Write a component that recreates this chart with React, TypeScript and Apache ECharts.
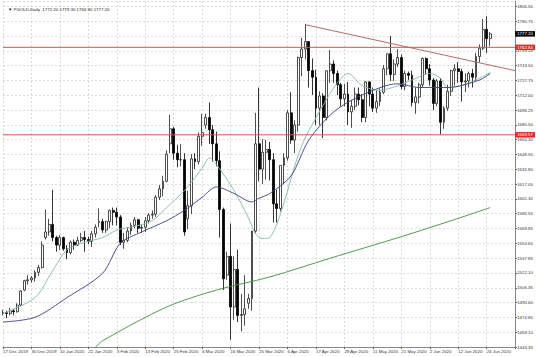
import React, { useEffect, useRef } from 'react';
import * as echarts from 'echarts';

// Daily candles (index 0 = 17 Dec 2019)
const opens = [
  1480,1480,1479,1482,1481,1488,1504,1514,1515,1517,1523,1528,1560,1566,1574,1560,1552,1560,1548,1544,
  1555,1552,1557,1560,1558,1556,1564,1576,1577,1568,1577,1589,1587,1582,1555,1557,1567,1573,1579,1570,
  1571,1578,1584,1585,1603,1612,1620,1660,1676,1650,1643,1643,1580,1594,1644,1641,1668,1680,1688,1675,
  1660,1642,1590,1520,1540,1486,1526,1477,1478,1490,1495,1567,1660,1633,1651,1654,1643,1596,1591,1637,
  1645,1693,1664,1680,1752,1761,1769,1738,1731,1698,1711,1688,1738,1745,1735,1723,1708,1713,1694,1700,
  1713,1707,1688,1726,1713,1698,1705,1715,1740,1756,1734,1745,1752,1721,1735,1733,1704,1710,1723,1751,
  1740,1728,1703,1727,1683,1698,1716,1738,1740,1737,1726,1727,1735,1731,1753,1762,1782,1772.2,
];
const highs = [
  1483,1482,1485,1484,1490,1504,1515,1520,1519,1525,1531,1556,1590,1580,1611,1562,1563,1561,1552,1557,
  1558,1561,1565,1567,1561,1567,1574,1591,1580,1578,1590,1592,1592,1584,1565,1571,1576,1582,1580,1574,
  1582,1586,1589,1605,1616,1626,1653,1691,1678,1659,1660,1650,1610,1649,1650,1672,1692,1692,1704,1680,
  1673,1652,1592,1545,1575,1540,1547,1500,1520,1500,1567,1693,1720,1665,1664,1662,1650,1611,1637,1650,
  1696,1715,1685,1753,1773,1788,1769,1751,1739,1716,1714,1738,1760,1749,1738,1725,1724,1726,1707,1720,
  1720,1713,1727,1727,1720,1717,1719,1744,1756,1775,1750,1761,1755,1738,1737,1738,1720,1725,1752,1752,
  1745,1730,1729,1730,1700,1723,1739,1745,1747,1740,1735,1737,1740,1757,1766,1793,1796,1779.3,
];
const lows = [
  1477,1474,1477,1477,1480,1487,1503,1510,1512,1513,1519,1527,1558,1562,1556,1545,1547,1546,1537,1542,
  1547,1551,1555,1545,1553,1550,1560,1571,1565,1565,1570,1573,1573,1552,1548,1555,1563,1570,1565,1565,
  1566,1575,1580,1582,1600,1604,1619,1650,1643,1635,1636,1562,1569,1585,1633,1638,1658,1676,1660,1641,
  1636,1560,1504,1515,1451,1472,1470,1460,1466,1484,1482,1565,1620,1617,1622,1621,1576,1576,1588,1617,
  1642,1660,1650,1673,1732,1750,1720,1712,1680,1680,1666,1685,1725,1725,1712,1700,1700,1680,1677,1696,
  1701,1683,1683,1700,1694,1693,1700,1713,1733,1727,1727,1742,1718,1717,1728,1700,1692,1703,1720,1734,
  1722,1696,1700,1670,1676,1695,1711,1722,1725,1705,1715,1720,1720,1727,1747,1760,1757,1763.9,
];
const closes = [
  1480,1479,1482,1481,1488,1503,1514,1515,1517,1523,1528,1552,1566,1574,1560,1552,1560,1548,1544,1555,
  1552,1557,1560,1558,1556,1564,1571,1577,1568,1577,1589,1587,1582,1555,1557,1567,1573,1579,1570,1571,
  1578,1584,1585,1603,1612,1620,1649,1676,1650,1643,1643,1566,1594,1644,1641,1668,1672,1688,1675,1660,
  1642,1590,1516,1540,1486,1526,1477,1478,1484,1495,1567,1660,1633,1651,1654,1643,1596,1591,1637,1645,
  1693,1664,1680,1752,1761,1769,1738,1731,1698,1711,1688,1738,1745,1735,1723,1708,1713,1694,1700,1713,
  1707,1688,1726,1713,1698,1705,1715,1740,1756,1734,1745,1752,1721,1735,1733,1704,1710,1723,1751,1740,
  1728,1703,1727,1683,1698,1716,1738,1740,1737,1726,1727,1735,1731,1753,1762,1782,1772,1777.2,
];

const fastMaIdx = [0, 9, 14, 18, 23, 28, 32, 37, 42, 46, 51, 56, 58, 60, 65, 69, 71, 73, 75, 84, 90, 94, 97, 101, 106, 111, 115, 120, 123, 125, 129, 134, 137];
const fastMaVal = [1479, 1496, 1525, 1547, 1555, 1560, 1568, 1572, 1578, 1592, 1610, 1634, 1645, 1638, 1610, 1581, 1564, 1559, 1560, 1658, 1701, 1725, 1735, 1722, 1717, 1722, 1728, 1735, 1730, 1720, 1722, 1730, 1736];
const midMaIdx = [0, 9, 18, 28, 33, 39, 46, 51, 56, 60, 65, 70, 72, 75, 81, 86, 93, 101, 111, 117, 125, 134, 137];
const midMaVal = [1470, 1475, 1496, 1522, 1554, 1566, 1578, 1589, 1603, 1614, 1607, 1598, 1602, 1607, 1626, 1664, 1694, 1712, 1724, 1720, 1720, 1728, 1735];
const slowMaIdx = [26, 28, 46, 60, 75, 92, 112, 126, 137];
const slowMaVal = [1443, 1450, 1486, 1504, 1518, 1538, 1561, 1578, 1592];

// Trend line and levels
const trendIdx = [85, 144];
const trendVal = [1787, 1738];
const levelLines = [1762.84, 1669.57];
const levelSpan = [0, 144];
const lastPrice = 1777.2;

const dateLabels = [
  '17 Dec 2019', '30 Dec 2019', '10 Jan 2020', '22 Jan 2020', '3 Feb 2020', '13 Feb 2020',
  '25 Feb 2020', '6 Mar 2020', '16 Mar 2020', '25 Mar 2020', '6 Apr 2020', '17 Apr 2020',
  '29 Apr 2020', '11 May 2020', '21 May 2020', '2 Jun 2020', '12 Jun 2020', '24 Jun 2020',
];
// '' where the reference's label is hidden behind the price box
const priceLabels = [
  '1443.35', '1459.10', '1474.85', '1490.60', '1506.35', '1522.10', '1537.85', '1553.60',
  '1569.85', '1585.55', '1601.30', '1617.05', '1632.80', '1648.55', '1664.30', '1680.50',
  '1696.25', '1712.00', '1727.75', '1743.50', '1759.20', '', '1790.75', '1806.55',
];
const titleText = '▼ PGOLD,Daily  1772.20 1779.30 1763.90 1777.20';

const Y_MIN = 1443.35;
const Y_STEP = 15.7913;
const Y_MAX = 1812.25;
const N_SLOTS = 145;
const FONT = 'Liberation Sans';
const LEVEL_RED = '#dc5050';

export default function App() {
  const ref = useRef<HTMLDivElement>(null);
  useEffect(() => {
    const chart = echarts.init(ref.current!, null, { renderer: 'svg' });
    const cats = Array.from({ length: N_SLOTS }, (_, i) => String(i));
    const candles = opens.map((o, i) => [o, closes[i], lows[i], highs[i]]);
    const pairs = (idx: number[], val: number[]) => idx.map((x, i) => [x, val[i]]);
    const grid = '#c4c4c4';
    const boxLabel = (v: number, bg: string) => ({
      show: true,
      position: 'end',
      distance: 0,
      formatter: () => v.toFixed(2),
      backgroundColor: bg,
      color: '#ffffff',
      opacity: 1,
      fontSize: 4.4,
      fontFamily: FONT,
      padding: [1, 2, 0.5, 2],
    });
    const clearLine = { color: 'rgba(0,0,0,0)', width: 0.01, type: 'solid' };

    const levelSeries = levelLines.map((v) => ({
      type: 'line',
      data: levelSpan.map((x) => [x, v]),
      showSymbol: false,
      lineStyle: { color: LEVEL_RED, width: 1 },
      itemStyle: { color: LEVEL_RED },
      z: 4,
      markLine: {
        silent: true,
        symbol: ['none', 'none'],
        lineStyle: clearLine,
        data: [{ yAxis: v, lineStyle: clearLine, label: boxLabel(v, '#e02a2a') }],
      },
    }));

    const option: any = {
      animation: false,
      backgroundColor: '#ffffff',
      title: {
        text: titleText,
        left: 3,
        top: 2,
        textStyle: { fontSize: 4.4, fontWeight: 'normal', color: '#222', fontFamily: FONT },
      },
      grid: { left: 1, right: 20.2, top: 1, bottom: 10 },
      xAxis: {
        type: 'category',
        data: cats,
        boundaryGap: false,
        axisLine: { show: true, lineStyle: { color: '#888', width: 1 } },
        axisTick: { show: true, interval: 7, length: 2, lineStyle: { color: '#666' } },
        axisLabel: {
          interval: 7,
          align: 'left',
          margin: 2,
          fontSize: 4.4,
          color: '#333',
          fontFamily: FONT,
          formatter: (_v: string, idx: number) => (idx % 8 === 0 ? dateLabels[idx / 8] || '' : ''),
        },
        splitLine: { show: true, interval: 7, lineStyle: { color: grid, width: 0.6, type: [2, 2] } },
      },
      yAxis: {
        type: 'value',
        position: 'right',
        min: Y_MIN,
        max: Y_MAX,
        interval: Y_STEP,
        scale: true,
        axisLine: { show: true, lineStyle: { color: '#888', width: 1 } },
        axisTick: { show: true, length: 2, lineStyle: { color: '#666' } },
        axisLabel: {
          margin: 2,
          fontSize: 4.4,
          color: '#333',
          fontFamily: FONT,
          showMaxLabel: false,
          formatter: (v: number) => {
            const k = Math.round((v - Y_MIN) / Y_STEP);
            return Math.abs(v - (Y_MIN + k * Y_STEP)) < 0.01 ? priceLabels[k] || '' : '';
          },
        },
        splitLine: { show: true, lineStyle: { color: grid, width: 0.6, type: [2, 2] } },
      },
      series: [
        {
          type: 'candlestick',
          data: candles,
          barWidth: 2.4,
          itemStyle: {
            color: '#ffffff',
            color0: '#000000',
            borderColor: '#222222',
            borderColor0: '#000000',
            borderWidth: 0.8,
          },
          z: 2,
        },
        {
          type: 'line', data: pairs(slowMaIdx, slowMaVal), showSymbol: false, smooth: 0.3,
          lineStyle: { color: '#3f8f3f', width: 0.9 }, z: 3,
          markLine: {
            silent: true,
            symbol: ['none', 'none'],
            lineStyle: clearLine,
            data: [{ yAxis: lastPrice, lineStyle: clearLine, label: boxLabel(lastPrice, '#000000') }],
          },
        },
        {
          type: 'line', data: pairs(fastMaIdx, fastMaVal), showSymbol: false, smooth: 0.3,
          lineStyle: { color: '#86b8a0', width: 0.9 }, z: 3,
        },
        {
          type: 'line', data: pairs(midMaIdx, midMaVal), showSymbol: false, smooth: 0.3,
          lineStyle: { color: '#3a3f80', width: 0.9 }, z: 3,
        },
        {
          type: 'line', data: pairs(trendIdx, trendVal), showSymbol: false,
          lineStyle: { color: '#b86a6a', width: 1 }, z: 4,
        },
        ...levelSeries,
      ],
    };
    chart.setOption(option);
    return () => chart.dispose();
  }, []);
  return (
    <div
      ref={ref}
      style={{ position: 'fixed', left: 0, top: 0, width: 536, height: 357, background: '#fff' }}
    />
  );
}
